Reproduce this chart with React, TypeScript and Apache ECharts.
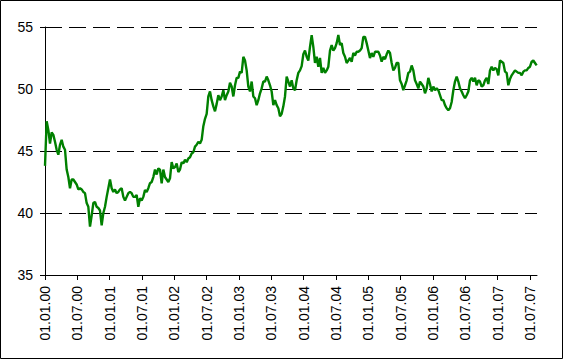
import React, { useEffect, useRef } from "react";
import * as echarts from "echarts";

// Tick labels (every half year, dd.mm.yy)
const tickLabels = [
  "01.01.00", "01.07.00", "01.01.01", "01.07.01", "01.01.02", "01.07.02",
  "01.01.03", "01.07.03", "01.01.04", "01.07.04", "01.01.05", "01.07.05",
  "01.01.06", "01.07.06", "01.01.07", "01.07.07",
];
const tickStepMonths = 6;

// Observations sampled roughly every 9.4 days starting 01.01.2000 (step in months)
const sampleStepMonths = 0.30928;
const prices = [
  43.8, 47.4, 46.7, 45.6, 46.5, 46.3, 45.75, 45.1, 44.7, 45.5,
  45.9, 45.35, 45.1, 43.5, 42.9, 42.0, 42.7, 42.7, 42.5, 42.3,
  41.9, 42.0, 41.9, 41.7, 41.6, 40.8, 40.5, 38.9, 39.8, 40.8,
  40.9, 40.5, 40.4, 40.2, 39.0, 40.0, 40.5, 41.3, 42.0, 42.7,
  42.0, 41.7, 41.9, 41.6, 41.7, 41.9, 42.0, 41.3, 41.0, 41.3,
  41.6, 41.7, 41.6, 41.3, 41.3, 41.45, 40.5, 41.2, 41.0, 41.3,
  41.85, 41.7, 42.0, 42.4, 42.5, 42.9, 43.5, 43.1, 43.6, 43.5,
  42.4, 43.5, 42.9, 42.7, 42.5, 42.8, 44.1, 43.6, 43.7, 44.0,
  43.3, 43.5, 44.1, 44.0, 44.3, 44.1, 44.4, 44.5, 44.8, 44.9,
  45.35, 45.5, 45.75, 45.6, 45.9, 47.0, 47.6, 48.0, 49.4, 49.8,
  49.1, 48.6, 48.2, 48.8, 49.5, 49.1, 49.4, 49.9, 49.1, 49.5,
  49.8, 50.5, 50.2, 49.4, 50.3, 50.9, 50.9, 51.4, 51.3, 52.6,
  52.3, 51.5, 50.2, 49.8, 50.6, 49.4, 49.25, 48.7, 49.1, 49.65,
  50.05, 50.6, 50.6, 51.0, 50.7, 50.3, 49.8, 48.7, 49.1, 48.7,
  48.45, 47.8, 48.0, 48.6, 49.4, 51.0, 50.6, 50.2, 50.7, 50.05,
  49.9, 50.7, 51.3, 51.5, 51.85, 52.8, 53.1, 52.6, 52.3, 53.4,
  54.35, 53.4, 52.1, 52.6, 51.8, 52.5, 51.3, 51.7, 51.3, 51.5,
  51.8, 53.1, 53.55, 53.1, 53.3, 53.7, 54.35, 53.55, 53.7, 52.9,
  52.6, 52.1, 52.3, 52.5, 52.2, 52.9, 52.7, 53.0, 53.0, 53.1,
  53.3, 54.2, 54.2, 53.7, 53.1, 52.5, 52.9, 52.6, 53.0, 53.0,
  53.0, 52.7, 52.2, 52.6, 52.4, 52.8, 53.1, 52.9, 52.1, 51.5,
  51.7, 52.1, 52.1, 50.7, 50.4, 49.9, 50.3, 50.7, 51.3, 51.4,
  51.9, 51.5, 50.7, 50.4, 50.05, 50.6, 50.4, 50.2, 49.65, 50.05,
  50.9, 50.4, 49.8, 50.2, 49.9, 50.05, 49.9, 49.5, 49.1, 49.1,
  48.7, 48.45, 48.3, 48.45, 48.95, 49.9, 50.6, 51.0, 50.6, 50.05,
  49.8, 49.5, 49.25, 49.5, 49.8, 50.7, 50.9, 50.6, 50.9, 50.3,
  50.7, 50.6, 50.2, 50.3, 50.7, 50.9, 50.4, 51.5, 51.8, 51.5,
  51.7, 51.6, 51.1, 52.3, 52.2, 52.1, 51.4, 51.3, 50.3, 50.8,
  51.1, 51.3, 51.5, 51.4, 51.3, 51.3, 51.1, 51.4, 51.5, 51.5,
  51.7, 51.8, 52.2, 52.3, 52.1, 51.9,
];

const yMin = 35;
const yMax = 55;
const yStep = 5;
const xMaxMonths = 91.3;

export default function App() {
  const ref = useRef<HTMLDivElement>(null);

  useEffect(() => {
    if (!ref.current) return;
    const chart = echarts.init(ref.current, null, { renderer: "svg" });
    const tickMonths = tickLabels.map((_, i) => i * tickStepMonths);
    const data = prices.map((v, i) => [i * sampleStepMonths, v]);
    const font = "Liberation Sans, Arial, sans-serif";

    chart.setOption({
      animation: false,
      backgroundColor: "#ffffff",
      graphic: [
        {
          type: "rect",
          shape: { x: 0.5, y: 0.5, width: 562, height: 358 },
          style: { fill: "none", stroke: "#000", lineWidth: 1 },
          silent: true,
        },
      ],
      grid: { left: 45, top: 27, height: 248, width: 492 },
      xAxis: {
        type: "value",
        min: 0,
        max: xMaxMonths,
        axisLine: { show: true, onZero: false, lineStyle: { color: "#000", width: 1 } },
        axisTick: {
          show: true,
          inside: false,
          length: 5,
          customValues: tickMonths,
          lineStyle: { color: "#000" },
        },
        axisLabel: {
          customValues: tickMonths,
          rotate: 90,
          margin: 11,
          color: "#000",
          fontSize: 14,
          fontFamily: font,
          formatter: (v: number) => {
            const idx = Math.round(v / tickStepMonths);
            return tickLabels[idx] ?? "";
          },
        },
        splitLine: { show: false },
      },
      yAxis: {
        type: "value",
        min: yMin,
        max: yMax,
        interval: yStep,
        axisLine: { show: true, lineStyle: { color: "#000", width: 1 } },
        axisTick: { show: true, inside: false, length: 5, lineStyle: { color: "#000" } },
        axisLabel: {
          margin: 12,
          color: "#000",
          fontSize: 14,
          fontFamily: font,
        },
        splitLine: {
          show: true,
          lineStyle: { color: "#000", width: 1, type: [17, 7] },
        },
      },
      series: [
        {
          type: "line",
          data,
          showSymbol: false,
          symbol: "none",
          lineStyle: { color: "#008000", width: 2.4 },
          z: 3,
        },
      ],
    });
    return () => chart.dispose();
  }, []);

  return (
    <div
      ref={ref}
      style={{ position: "fixed", left: 0, top: 0, width: 563, height: 359 }}
    />
  );
}
